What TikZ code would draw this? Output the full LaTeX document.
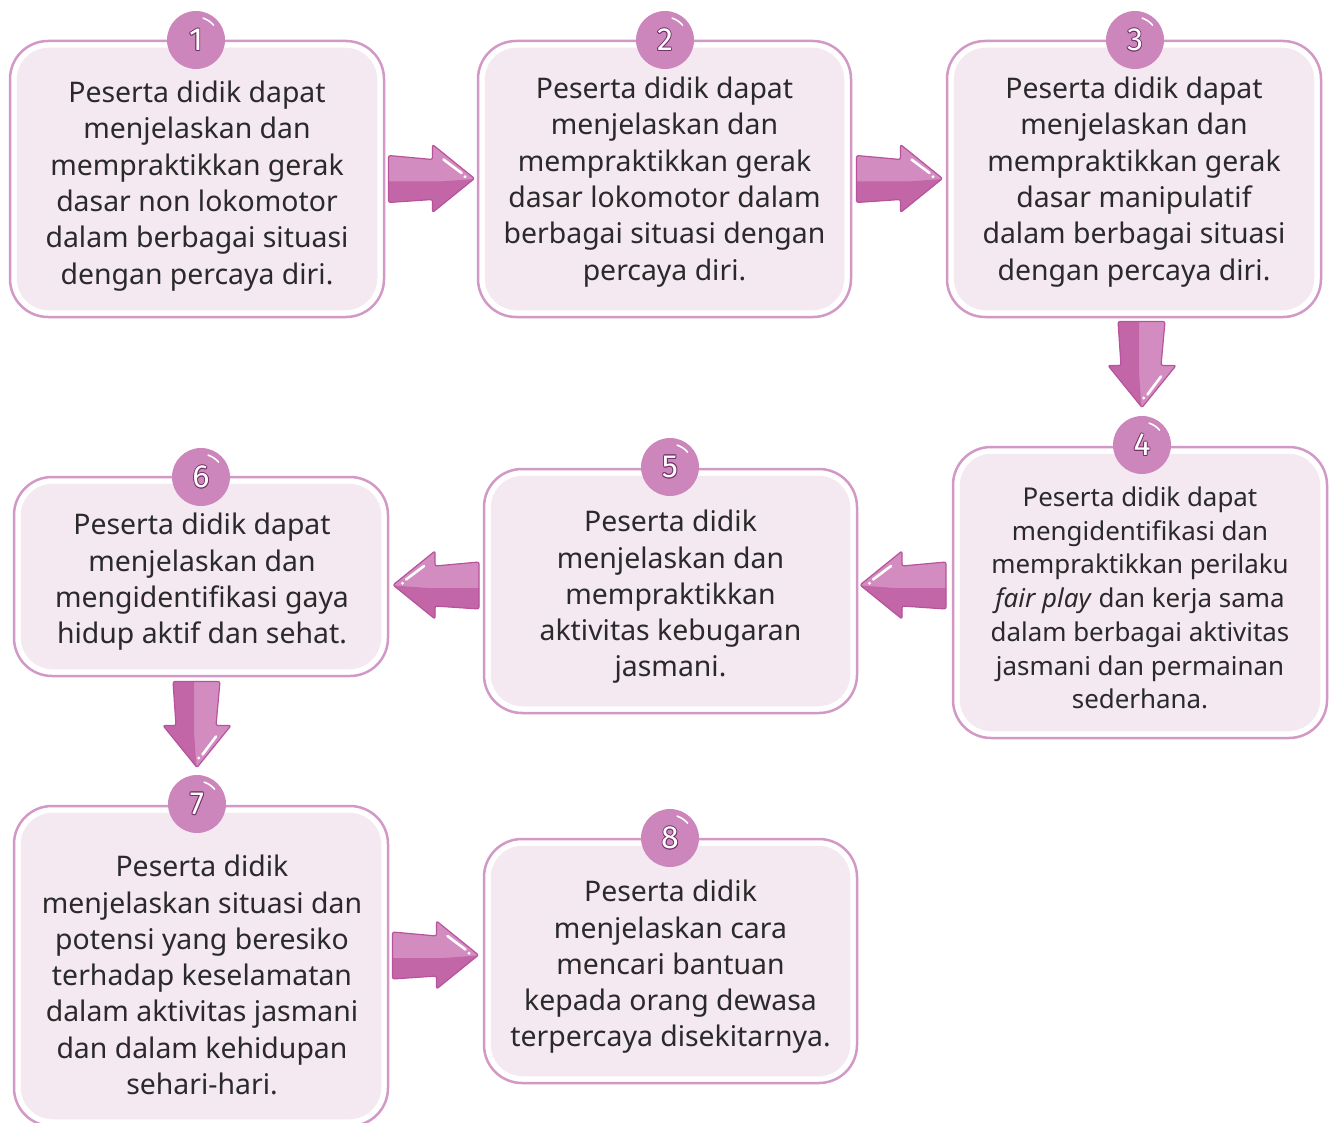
\documentclass[tikz,border=0pt]{standalone}
\usepackage{fontspec}
\setmainfont{Noto Sans}
\newfontfamily\numfont{Fira Sans}
\usetikzlibrary{calc}
\definecolor{bordercol}{HTML}{D298C6}
\definecolor{innerfill}{HTML}{F4E8F1}
\definecolor{circfill}{HTML}{CC86BB}
\definecolor{numline}{HTML}{74306A}
\definecolor{textcol}{HTML}{2A2A2A}
\definecolor{arrlight}{HTML}{D38CC0}
\definecolor{arrdark}{HTML}{C266A7}
\definecolor{arredge}{HTML}{B9529C}
\newcommand\odig[1]{%
  \rlap{\textcolor{numline}{\hspace{-0.9pt}#1}}%
  \rlap{\textcolor{numline}{\hspace{0.9pt}#1}}%
  \rlap{\textcolor{numline}{\raisebox{0.9pt}{#1}}}%
  \rlap{\textcolor{numline}{\raisebox{-0.9pt}{#1}}}%
  \rlap{\textcolor{numline}{\hspace{0.65pt}\raisebox{0.65pt}{#1}}}%
  \rlap{\textcolor{numline}{\hspace{-0.65pt}\raisebox{-0.65pt}{#1}}}%
  \rlap{\textcolor{numline}{\hspace{0.65pt}\raisebox{-0.65pt}{#1}}}%
  \rlap{\textcolor{numline}{\hspace{-0.65pt}\raisebox{0.65pt}{#1}}}%
  \textcolor{white}{#1}}
\tikzset{
  stepbox/.style={draw=bordercol, line width=2.5, rounded corners=38, inner sep=0, minimum width=#1},
  boxtext/.style={align=center, inner sep=0, text=textcol, font=\fontsize{28.4}{36.3}\selectfont},
  smalltext/.style={align=center, inner sep=0, text=textcol, font=\fontsize{25.9}{33.7}\selectfont},
  numcirc/.style={circle, fill=circfill, minimum size=58, inner sep=0, font=\numfont\fontsize{32}{32}\selectfont},
  hilite/.style={white, line width=1.6, line cap=round},
  barrow/.pic={
    \begin{scope}
      \path[clip, rounded corners=2] (-43,-23) -- (1,-19) -- (1,-34) -- (43,0) -- (1,34) -- (1,21) -- (-43,24) -- cycle;
      \fill[arrlight] (-50,-40) rectangle (50,40);
      \fill[arrdark] (-50,3) -- (8,3) -- (50,0) -- (50,40) -- (-50,40) -- cycle;
    \end{scope}
    \draw[arredge, line width=1.2, rounded corners=2, line join=round] (-43,-23) -- (1,-19) -- (1,-34) -- (43,0) -- (1,34) -- (1,21) -- (-43,24) -- cycle;
    \draw[white, line width=2.6, line cap=round] (12,-19) -- (30,-5.5);
    \fill[white] (33.5,-1.8) circle (1.6);
  }
}
\newcommand\numbadge[3]{%
  \node[numcirc] (#1) at (#2) {\odig{#3}};
  \draw[hilite] ([shift={(-40:23)}]#1.center) arc[start angle=-40, end angle=-72, radius=23];
}
\newcommand\innerfill[1]{%
  \fill[innerfill, rounded corners=32] ([shift={(8,8)}]#1.north west) rectangle ([shift={(-8,-8)}]#1.south east);
}
\begin{document}
\begin{tikzpicture}[x=1pt, y=-1pt]
\useasboundingbox (0,0) rectangle (1329,1123);
\fill[white] (0,0) rectangle (1329,1123);

% Box 1
\node[stepbox=374, minimum height=276] (b1) at (197,179) {};
\innerfill{b1}
\node[boxtext] (t1) at (197,186) {Peserta didik dapat\\menjelaskan dan\\mempraktikkan gerak\\dasar non lokomotor\\dalam berbagai situasi\\dengan percaya diri.};
\numbadge{c1}{196,40}{1}

% Box 2
\node[stepbox=373, minimum height=276] (b2) at (664.5,179) {};
\innerfill{b2}
\node[boxtext] (t2) at (664.5,182) {Peserta didik dapat\\menjelaskan dan\\mempraktikkan gerak\\dasar lokomotor dalam\\berbagai situasi dengan\\percaya diri.};
\numbadge{c2}{665,40}{2}

% Box 3
\node[stepbox=374, minimum height=276] (b3) at (1134,179) {};
\innerfill{b3}
\node[boxtext] (t3) at (1134,182) {Peserta didik dapat\\menjelaskan dan\\mempraktikkan gerak\\dasar manipulatif\\dalam berbagai situasi\\dengan percaya diri.};
\numbadge{c3}{1135,40}{3}

% Box 4
\node[stepbox=374, minimum height=291] (b4) at (1140,592.5) {};
\innerfill{b4}
\node[smalltext] (t4) at (1140,598) {Peserta didik dapat\\mengidentifikasi dan\\mempraktikkan perilaku\\\textit{fair play} dan kerja sama\\dalam berbagai aktivitas\\jasmani dan permainan\\sederhana.};
\numbadge{c4}{1142,445}{4}

% Box 5
\node[stepbox=373, minimum height=244] (b5) at (670.5,591) {};
\innerfill{b5}
\node[boxtext] (t5) at (670.5,597) {Peserta didik\\menjelaskan dan\\mempraktikkan\\aktivitas kebugaran\\jasmani.};
\numbadge{c5}{670,467}{5}

% Box 6
\node[stepbox=374, minimum height=199] (b6) at (201,576.5) {};
\innerfill{b6}
\node[boxtext] (t6) at (202,582) {Peserta didik dapat\\menjelaskan dan\\mengidentifikasi gaya\\hidup aktif dan sehat.};
\numbadge{c6}{201,477}{6}

% Box 7
\node[stepbox=374, minimum height=320] (b7) at (201,966) {};
\innerfill{b7}
\node[boxtext] (t7) at (202,975) {Peserta didik\\menjelaskan situasi dan\\potensi yang beresiko\\terhadap keselamatan\\dalam aktivitas jasmani\\dan dalam kehidupan\\sehari-hari.};
\numbadge{c7}{197,804}{7}

% Box 8
\node[stepbox=373, minimum height=244] (b8) at (670.5,961) {};
\innerfill{b8}
\node[boxtext] (t8) at (670.5,967) {Peserta didik\\menjelaskan cara\\mencari bantuan\\kepada orang dewasa\\terpercaya disekitarnya.};
\numbadge{c8}{670,838}{8}

% Arrows
\pic at (431.5,178.5) {barrow};
\pic at (899.5,178.5) {barrow};
\pic[rotate=-90] at (1142,364.5) {barrow};
\pic[xscale=-1] at (903,585) {barrow};
\pic[xscale=-1] at (436,585) {barrow};
\pic[rotate=-90] at (197,724.5) {barrow};
\pic at (435.5,955) {barrow};
\end{tikzpicture}
\end{document}
